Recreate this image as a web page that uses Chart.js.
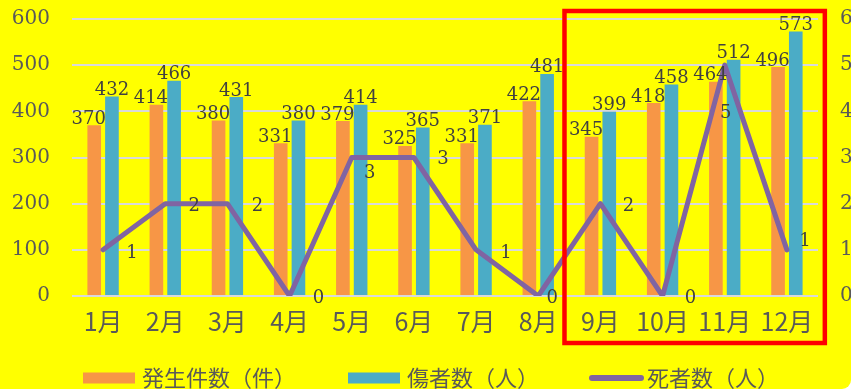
<!DOCTYPE html>
<html>
<head>
<meta charset="utf-8">
<script src="https://cdn.jsdelivr.net/npm/chart.js@4"></script>
<style>
  html, body { margin: 0; padding: 0; background: #ffffff; overflow: hidden; }
  #wrap { position: relative; width: 851px; height: 389px; overflow: hidden; background: #FFFF00; border-bottom-right-radius: 9px; }
  #c { position: absolute; left: 0; top: 0; }
</style>
</head>
<body>
<div id="wrap"><canvas id="c" width="853" height="400"></canvas></div>
<script>
const months = ['1月','2月','3月','4月','5月','6月','7月','8月','9月','10月','11月','12月'];
const incidents = [370, 414, 380, 331, 379, 325, 331, 422, 345, 418, 464, 496];
const injured   = [432, 466, 431, 380, 414, 365, 371, 481, 399, 458, 512, 573];
const deaths    = [1, 2, 2, 0, 3, 3, 1, 0, 2, 0, 5, 1];
const leftTicks  = [0, 100, 200, 300, 400, 500, 600];
const rightTicks = [0, 1, 2, 3, 4, 5, 6];
const seriesNames = ['発生件数（件）', '傷者数（人）', '死者数（人）'];

const ORANGE = '#F79646', BLUE = '#4BACC6', PURPLE = '#8064A2';
const SERIF = '"DejaVu Serif", serif';
const JP = '"Noto Sans CJK JP", sans-serif';

// label placement offsets for the death-count labels (style only)
const deathLabelOffsets = [[29,3],[29,3],[30,3],[29,2],[18,16],[29,2],[30,3],[14,2],[28,3],[28,2],[1,48],[18,-9]];

const labelsPlugin = {
  id: 'labelsPlugin',
  afterDatasetsDraw(chart) {
    const ctx = chart.ctx;
    ctx.save();
    ctx.font = '18px ' + SERIF;
    ctx.fillStyle = '#404040';
    ctx.textAlign = 'center';
    ctx.textBaseline = 'alphabetic';
    [0, 1].forEach(di => {
      const meta = chart.getDatasetMeta(di);
      const shift = di === 0 ? -5.5 : 0;
      meta.data.forEach((el, i) => {
        ctx.fillText(String(chart.data.datasets[di].data[i]), el.x + shift, el.y - 1.5);
      });
    });
    const lm = chart.getDatasetMeta(2);
    ctx.textBaseline = 'middle';
    lm.data.forEach((el, i) => {
      const o = deathLabelOffsets[i];
      ctx.fillText(String(chart.data.datasets[2].data[i]), el.x + o[0], el.y + o[1]);
    });
    ctx.restore();
  },
  afterDraw(chart) {
    const ctx = chart.ctx;
    const xs = chart.scales.x;
    const ca = chart.chartArea;
    const step = xs.getPixelForValue(1) - xs.getPixelForValue(0);
    // red highlight rectangle around 9月–12月
    const l = xs.getPixelForValue(8) - 0.578 * step;
    const r = xs.getPixelForValue(11) + 0.61 * step;
    ctx.save();
    ctx.strokeStyle = '#FF0000';
    ctx.lineWidth = 4.5;
    ctx.strokeRect(l, ca.top - 8, r - l, ca.bottom + 47 - (ca.top - 8));
    ctx.restore();

    // legend
    ctx.save();
    ctx.font = '22px ' + JP;
    ctx.textBaseline = 'middle';
    ctx.textAlign = 'left';
    const y = 378;
    let x = 83;
    const colors = [ORANGE, BLUE, PURPLE];
    const gaps = [52, 50, 0];
    seriesNames.forEach((name, i) => {
      if (i < 2) {
        ctx.fillStyle = colors[i];
        ctx.fillRect(x, y - 5.5, 52, 11);
        x += 59;
      } else {
        ctx.strokeStyle = colors[i];
        ctx.lineWidth = 6;
        ctx.lineCap = 'round';
        ctx.beginPath();
        ctx.moveTo(x + 3, y);
        ctx.lineTo(x + 52, y);
        ctx.stroke();
        x += 58;
      }
      ctx.fillStyle = '#595959';
      ctx.fillText(name, x, y);
      x += ctx.measureText(name).width + gaps[i];
    });
    ctx.restore();
  }
};

Chart.defaults.font.family = SERIF;

function fixSize(prop, val) {
  return s => {
    s[prop] = val;
    s.paddingTop = 0; s.paddingBottom = 0; s.paddingLeft = 0; s.paddingRight = 0;
  };
}

new Chart(document.getElementById('c'), {
  data: {
    labels: months,
    datasets: [
      { type: 'bar', label: seriesNames[0], data: incidents, backgroundColor: ORANGE, yAxisID: 'y',
        barPercentage: 0.77, categoryPercentage: 0.57, order: 1 },
      { type: 'bar', label: seriesNames[1], data: injured, backgroundColor: BLUE, yAxisID: 'y',
        barPercentage: 0.77, categoryPercentage: 0.57, order: 1 },
      { type: 'line', label: seriesNames[2], data: deaths, borderColor: PURPLE, backgroundColor: PURPLE,
        borderWidth: 5, pointRadius: 0, tension: 0, yAxisID: 'y1', order: 0,
        borderJoinStyle: 'round', borderCapStyle: 'round' }
    ]
  },
  options: {
    responsive: false,
    animation: false,
    devicePixelRatio: 1,
    layout: { autoPadding: false, padding: { left: 12, top: 19, right: 0, bottom: 59 } },
    plugins: { legend: { display: false }, tooltip: { enabled: false } },
    scales: {
      x: {
        afterFit: fixSize('height', 45),
        grid: { display: false },
        border: { display: false },
        ticks: { font: { family: JP, size: 25 }, color: '#595959', padding: 2, maxRotation: 0, autoSkip: false }
      },
      y: {
        position: 'left',
        min: 0, max: 600,
        afterFit: fixSize('width', 60),
        afterBuildTicks: axis => { axis.ticks = leftTicks.map(v => ({ value: v })); },
        grid: { color: '#D9D9D9', lineWidth: 2, drawTicks: false },
        border: { display: false },
        ticks: { font: { family: SERIF, size: 20 }, color: '#595959', padding: 22 }
      },
      y1: {
        position: 'right',
        min: 0, max: 6,
        afterFit: fixSize('width', 35),
        afterBuildTicks: axis => { axis.ticks = rightTicks.map(v => ({ value: v })); },
        grid: { display: false, drawTicks: false },
        border: { display: false },
        ticks: { font: { family: SERIF, size: 20 }, color: '#595959', padding: 22 }
      }
    }
  },
  plugins: [labelsPlugin]
});
</script>
</body>
</html>
